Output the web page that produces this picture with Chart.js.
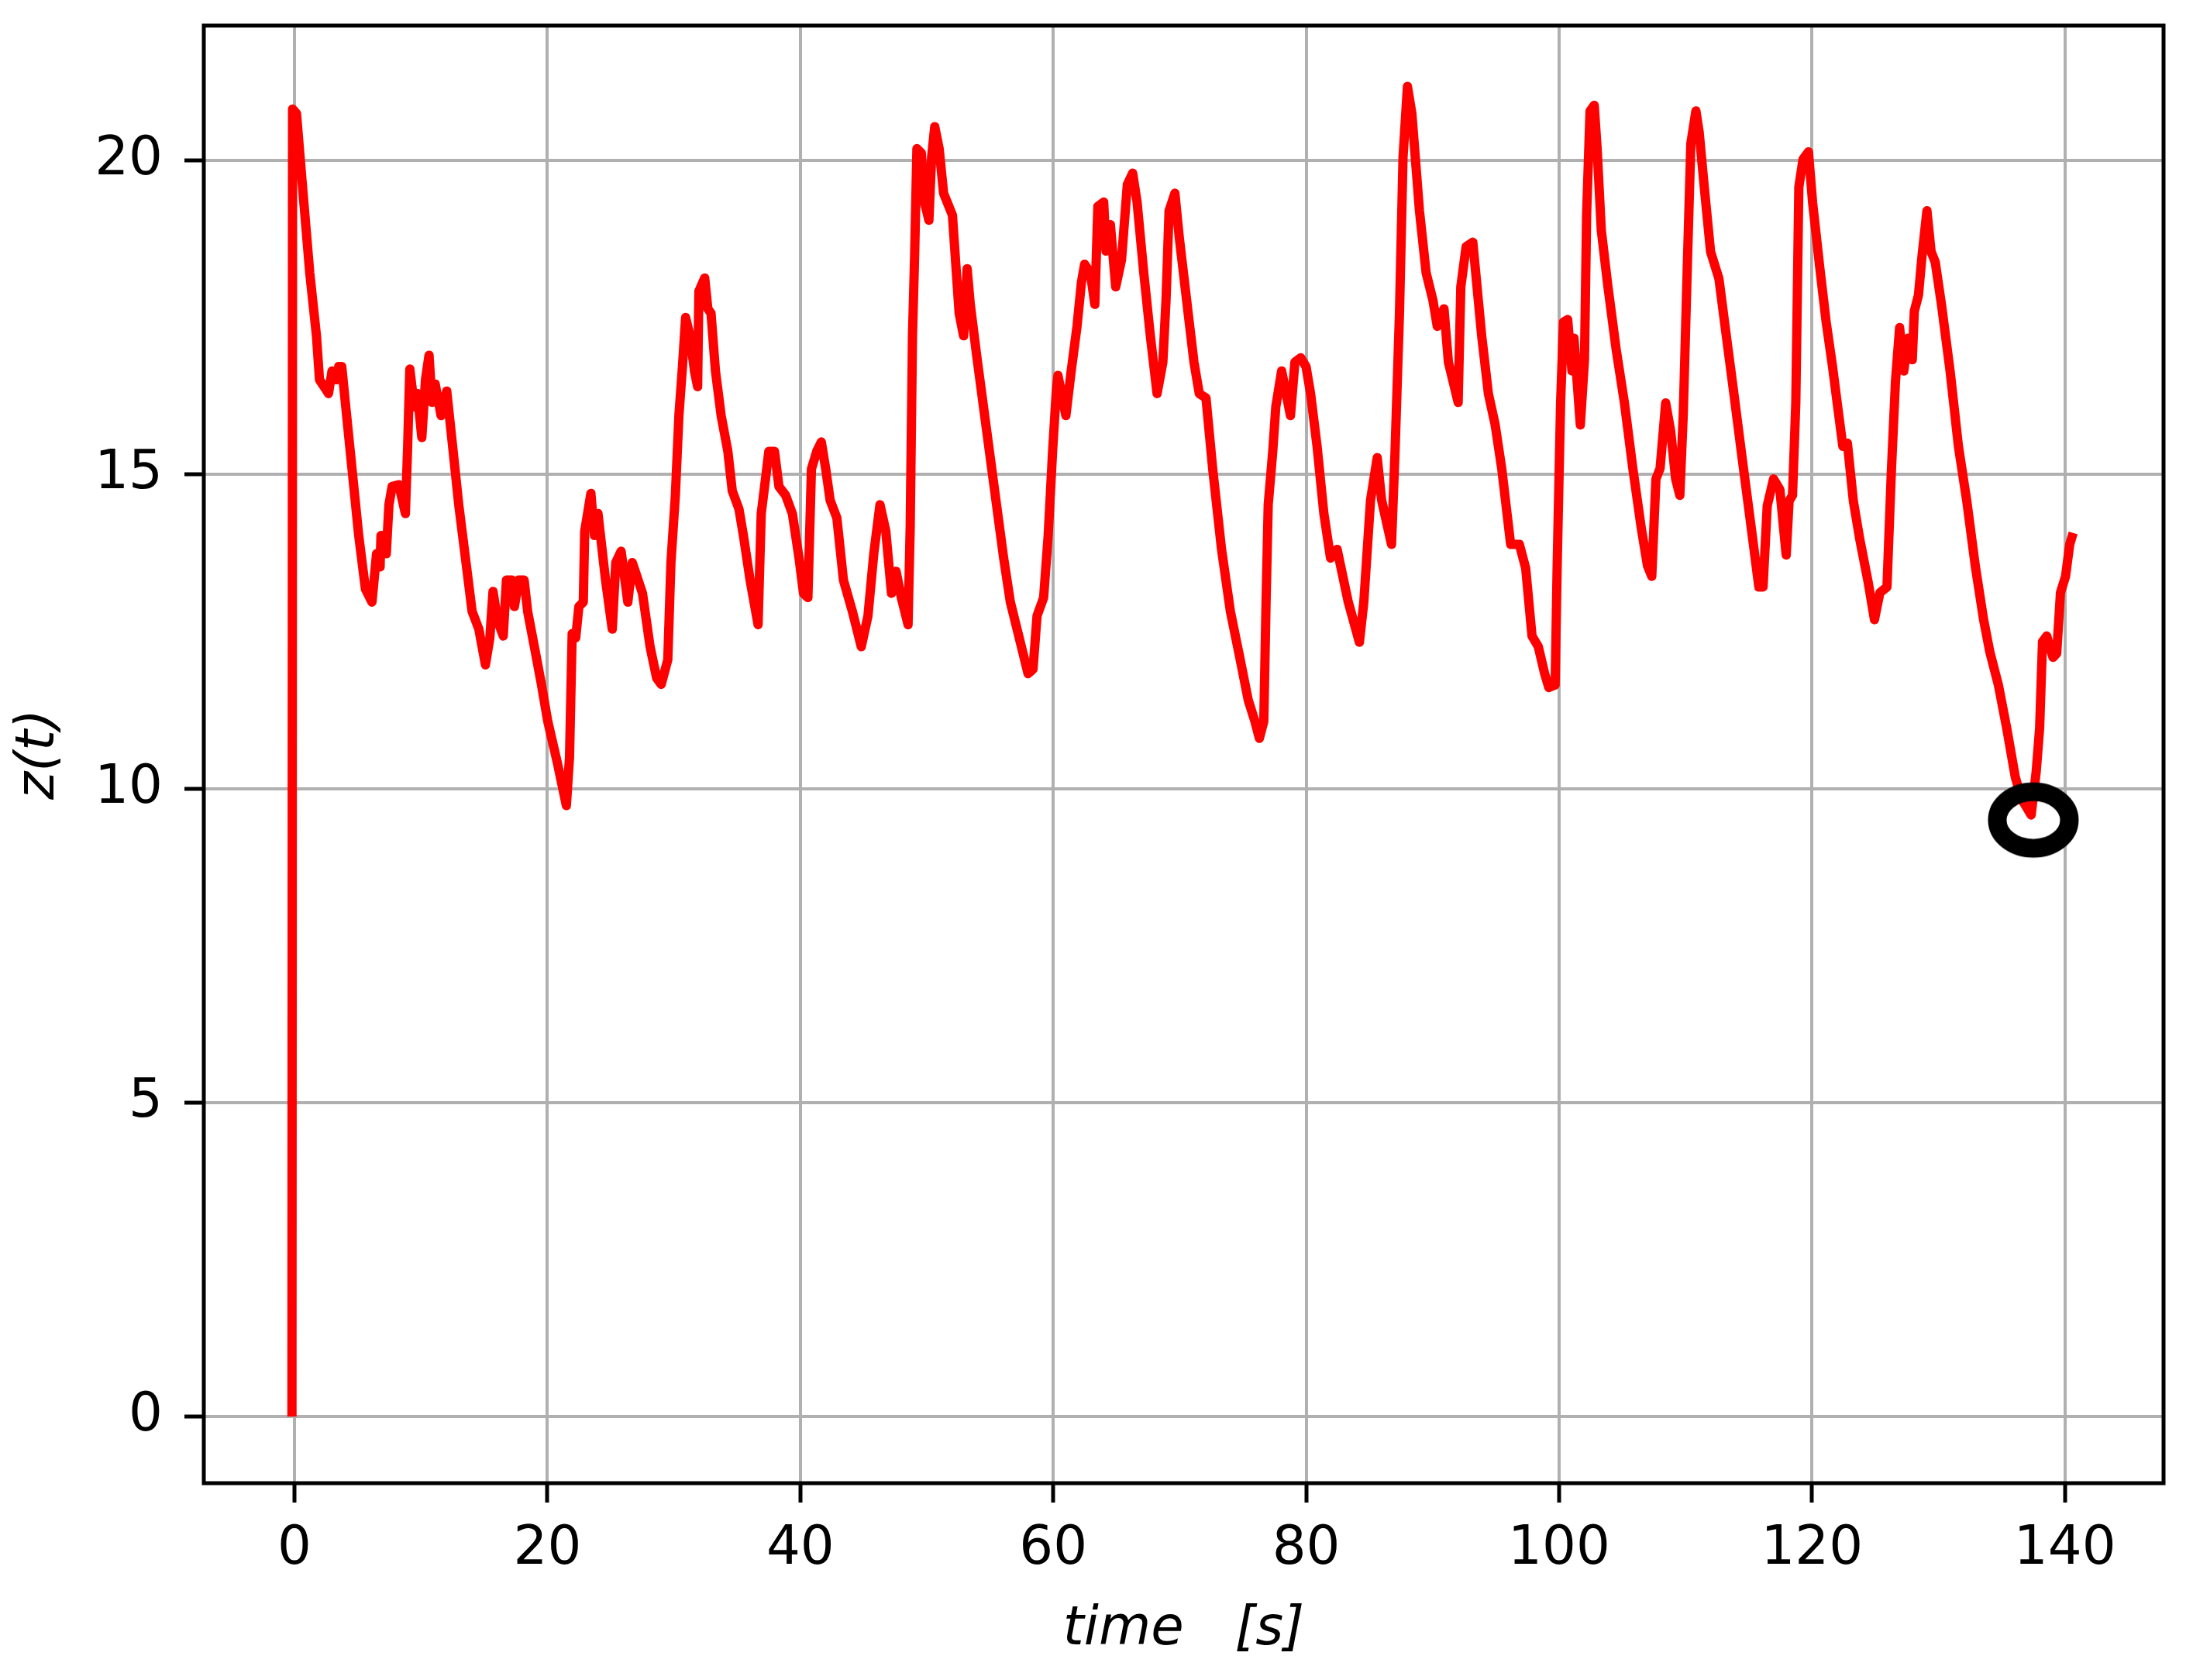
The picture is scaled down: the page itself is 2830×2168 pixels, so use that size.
<!DOCTYPE html>
<html>
<head>
<meta charset="utf-8">
<script src="https://cdn.jsdelivr.net/npm/chart.js@4.4.0/dist/chart.umd.min.js"></script>
<style>
html, body { margin: 0; padding: 0; background: #ffffff; }
canvas { display: block; }
</style>
</head>
<body>
<canvas id="c" width="2830" height="2168" style="width:2830px;height:2168px"></canvas>
<script>
// ---- tick labels ----
const xTicks = [0, 20, 40, 60, 80, 100, 120, 140];
const yTicks = [0, 5, 10, 15, 20];
const xRange = [-7.17, 147.8];
const yRange = [-1.06, 22.15];

// ---- series: time [s] and z(t) ----
const timeA = [-0.2, -0.15, 0.16, 0.68, 1.21, 1.74, 1.98, 2.44, 2.69, 2.97, 3.32, 3.50, 3.74, 4.02, 4.55, 5.08, 5.61, 6.13, 6.49, 6.77, 6.84, 7.26, 7.47, 7.72, 8.25, 8.77, 8.95, 9.12, 9.48, 9.72, 10.07, 10.36, 10.64, 10.88, 11.13, 11.59, 12.04, 12.47, 12.99, 13.52, 14.05, 14.58, 15.10, 15.45, 15.70, 16.05, 16.51, 16.76, 17.21, 17.39, 17.74, 18.16, 18.44, 18.97, 19.50, 20.03];
const zA = [0, 20.82, 20.75, 19.48, 18.21, 17.21, 16.51, 16.37, 16.29, 16.65, 16.51, 16.72, 16.72, 16.15, 15.09, 14.03, 13.18, 12.97, 13.74, 13.53, 14.03, 13.74, 14.52, 14.81, 14.84, 14.38, 15.44, 16.68, 16.08, 16.29, 15.59, 16.51, 16.90, 16.15, 16.44, 15.94, 16.33, 15.52, 14.52, 13.67, 12.82, 12.54, 11.97, 12.40, 13.14, 12.68, 12.43, 13.32, 13.32, 12.90, 13.32, 13.32, 12.82, 12.26, 11.69, 11.07];

const timeB = [20.8, 21.5, 21.75, 21.96, 22.24, 22.49, 22.84, 22.95, 23.44, 23.72, 24.0, 24.6, 25.13, 25.41, 25.83, 26.36, 26.71, 27.06, 27.52, 28.12, 28.64, 29.0, 29.52, 29.77, 30.12, 30.40, 30.68, 30.93, 31.28, 31.63, 31.88, 31.98, 32.44, 32.69, 32.94, 33.29, 33.74, 34.27, 34.62, 35.15, 35.5, 36.03, 36.66, 36.91, 37.26, 37.51, 37.96, 38.31, 38.84, 39.37, 39.90, 40.25, 40.60, 40.88, 41.30, 41.66, 42.01, 42.36, 42.89, 43.41, 44.12, 44.82, 45.35, 45.81, 46.30, 46.76, 47.21, 47.57, 47.99];
const zB = [10.4, 9.73, 10.5, 12.47, 12.40, 12.90, 12.97, 14.10, 14.70, 14.03, 14.38, 13.32, 12.54, 13.60, 13.78, 12.97, 13.60, 13.39, 13.11, 12.26, 11.76, 11.66, 12.05, 13.60, 14.67, 15.94, 16.72, 17.50, 17.21, 16.65, 16.40, 17.92, 18.13, 17.64, 17.57, 16.65, 15.94, 15.37, 14.74, 14.45, 14.03, 13.32, 12.61, 14.38, 14.95, 15.37, 15.37, 14.81, 14.67, 14.38, 13.67, 13.11, 13.04, 15.09, 15.37, 15.52, 15.09, 14.59, 14.31, 13.32, 12.82, 12.26, 12.75, 13.74, 14.52, 14.10, 13.11, 13.46, 13.04];

const timeC = [48.52, 48.69, 48.87, 49.04, 49.22, 49.57, 49.82, 50.17, 50.38, 50.63, 50.98, 51.33, 52.03, 52.56, 52.91, 53.19, 53.44, 53.97, 54.67, 55.37, 56.08, 56.61, 57.31, 58.01, 58.4, 58.72, 59.24, 59.6, 59.95, 60.23, 60.37, 61.0, 61.42, 61.88, 62.23, 62.48, 62.94, 63.29, 63.53, 63.99, 64.17, 64.52, 64.94, 65.40, 65.86, 66.28, 66.63, 67.16, 67.68, 68.21, 68.67, 68.92, 69.16, 69.62, 69.97, 70.67, 71.13, 71.55, 72.08, 72.61, 73.31, 74.01, 74.72, 75.42, 75.95, 76.3, 76.65, 76.83, 77.0, 77.36, 77.6, 78.06, 78.76, 79.11, 79.57, 79.99, 80.35, 80.87, 81.40, 81.93, 82.45, 83.33, 84.21, 84.56, 85.09, 85.62, 85.97, 86.75, 87.03, 87.38, 87.66, 88.01, 88.36, 88.96, 89.49, 90.02, 90.37, 90.90, 91.25, 92.02, 92.23, 92.65, 93.18, 93.88, 94.41, 94.94, 95.47, 96.17, 96.86, 97.36, 97.86, 98.36, 98.86, 99.19, 99.69];
const zC = [12.61, 14.17, 17.21, 18.49, 20.19, 20.12, 19.34, 19.05, 20.05, 20.54, 20.19, 19.48, 19.13, 17.57, 17.21, 18.28, 17.71, 16.86, 15.80, 14.74, 13.67, 12.97, 12.40, 11.83, 11.9, 12.75, 13.04, 14.03, 15.37, 16.29, 16.58, 15.94, 16.65, 17.36, 18.06, 18.35, 18.21, 17.71, 19.27, 19.34, 18.56, 18.98, 17.99, 18.42, 19.62, 19.80, 19.34, 18.21, 17.21, 16.29, 16.79, 17.78, 19.20, 19.48, 18.77, 17.57, 16.79, 16.29, 16.22, 15.09, 13.81, 12.82, 12.12, 11.41, 11.07, 10.8, 11.07, 12.97, 14.52, 15.37, 16.08, 16.65, 15.94, 16.79, 16.86, 16.72, 16.29, 15.44, 14.38, 13.67, 13.81, 12.97, 12.33, 12.97, 14.59, 15.27, 14.59, 13.89, 15.37, 17.57, 20.05, 21.18, 20.75, 19.20, 18.21, 17.78, 17.36, 17.64, 16.79, 16.15, 17.99, 18.63, 18.70, 17.21, 16.29, 15.80, 15.09, 13.89, 13.89, 13.51, 12.43, 12.26, 11.83, 11.61, 11.65];

const timeD = [99.85, 100.12, 100.35, 100.68, 101.02, 101.18, 101.68, 102.01, 102.18, 102.45, 102.78, 103.01, 103.34, 103.84, 104.51, 105.17, 105.83, 106.50, 106.99, 107.33, 107.66, 107.99, 108.43, 108.82, 109.22, 109.55, 109.82, 110.15, 110.42, 110.82, 111.08, 111.48, 111.98, 112.64, 113.14, 113.81, 114.47, 115.14, 115.80, 116.13, 116.46, 116.96, 117.46, 117.96, 118.19, 118.46, 118.72, 118.96, 119.29, 119.72, 120.05, 120.62, 121.12, 121.61, 122.11, 122.44, 122.8, 123.27, 123.77, 124.44, 124.94, 125.37, 125.93, 126.27, 126.60, 126.93, 127.26, 127.59, 127.93, 128.09, 128.42, 128.69, 129.09, 129.42, 129.75, 130.25, 130.92, 131.58, 132.24, 132.91, 133.57, 134.07, 134.74, 135.40, 136.07, 136.56, 137.33, 137.73, 138.0, 138.23, 138.56, 139.06, 139.35, 139.65, 140.05, 140.38, 140.65];
const zD = [13.55, 16.14, 17.43, 17.47, 16.65, 17.17, 15.79, 16.83, 19.15, 20.79, 20.88, 20.19, 18.89, 18.03, 17.00, 16.14, 15.10, 14.15, 13.55, 13.38, 14.93, 15.10, 16.14, 15.70, 14.93, 14.67, 15.96, 18.38, 20.27, 20.79, 20.45, 19.58, 18.55, 18.12, 17.34, 16.31, 15.27, 14.24, 13.21, 13.21, 14.50, 14.93, 14.76, 13.72, 14.58, 14.67, 16.14, 19.58, 20.02, 20.14, 19.33, 18.29, 17.43, 16.74, 15.96, 15.45, 15.5, 14.58, 13.98, 13.29, 12.69, 13.12, 13.21, 15.02, 16.48, 17.34, 16.65, 17.17, 16.83, 17.60, 17.86, 18.46, 19.20, 18.55, 18.38, 17.69, 16.65, 15.45, 14.58, 13.55, 12.69, 12.17, 11.65, 10.96, 10.19, 9.84, 9.58, 10.27, 10.96, 12.34, 12.43, 12.09, 12.15, 13.12, 13.38, 13.89, 14.07];

// highlighted minimum (black ring)
const markTime = [137.5];
const markZ = [9.5];

const times = [].concat(timeA, timeB, timeC, timeD);
const zValues = [].concat(zA, zB, zC, zD);
const seriesData = times.map((t, i) => ({ x: t, y: zValues[i] }));
const markData = markTime.map((t, i) => ({ x: t, y: markZ[i] }));

// ring marker style (ellipse outline)
const ring = document.createElement('canvas');
ring.width = 122; ring.height = 100;
(function () {
  const g = ring.getContext('2d');
  g.strokeStyle = '#000000';
  g.lineWidth = 24;
  g.beginPath();
  g.ellipse(61, 50, 46.5, 36.5, 0, 0, Math.PI * 2);
  g.stroke();
})();

const framePlugin = {
  id: 'frame',
  afterDraw(chart) {
    const { ctx, chartArea: a } = chart;
    ctx.save();
    ctx.strokeStyle = '#000000';
    ctx.lineWidth = 5;
    ctx.strokeRect(a.left, a.top, a.right - a.left, a.bottom - a.top);
    ctx.restore();
  }
};
const bgPlugin = {
  id: 'bg',
  beforeDraw(chart) {
    const ctx = chart.ctx;
    ctx.save();
    ctx.fillStyle = '#ffffff';
    ctx.fillRect(0, 0, chart.width, chart.height);
    ctx.restore();
  }
};

const FONT = "'DejaVu Sans', 'Liberation Sans', sans-serif";
function noPad(s) { s.paddingTop = 0; s.paddingBottom = 0; s.paddingLeft = 0; s.paddingRight = 0; }

new Chart(document.getElementById('c'), {
  type: 'line',
  data: {
    datasets: [
      {
        label: 'minimum',
        data: markData,
        showLine: false,
        pointStyle: ring,
        pointRadius: 50,
        pointHoverRadius: 50
      },
      {
        label: 'z(t)',
        data: seriesData,
        borderColor: '#ff0000',
        backgroundColor: '#ff0000',
        borderWidth: 12,
        borderJoinStyle: 'round',
        borderCapStyle: 'butt',
        pointRadius: 0,
        tension: 0,
        fill: false
      }
    ]
  },
  options: {
    responsive: false,
    animation: false,
    devicePixelRatio: 1,
    layout: { autoPadding: false, padding: { left: 0, top: 33, right: 38, bottom: 0 } },
    plugins: { legend: { display: false }, tooltip: { enabled: false } },
    events: [],
    scales: {
      x: {
        type: 'linear',
        min: xRange[0],
        max: xRange[1],
        afterBuildTicks: (s) => { s.ticks = xTicks.map(v => ({ value: v })); },
        afterFit: (s) => { s.height = 254; noPad(s); },
        ticks: {
          font: { family: FONT, size: 69 },
          color: '#000000',
          padding: 20,
          maxRotation: 0,
          autoSkip: false
        },
        grid: {
          color: '#b0b0b0',
          lineWidth: 4,
          tickColor: '#000000',
          tickWidth: 5,
          tickLength: 25,
          drawTicks: true
        },
        border: { display: false },
        title: {
          display: true,
          text: 'time   [s]',
          color: '#000000',
          font: { family: FONT, size: 69, style: 'italic' },
          padding: { top: 0, bottom: 23 }
        }
      },
      y: {
        type: 'linear',
        min: yRange[0],
        max: yRange[1],
        afterBuildTicks: (s) => { s.ticks = yTicks.map(v => ({ value: v })); },
        afterFit: (s) => { s.width = 263; noPad(s); },
        ticks: {
          font: { family: FONT, size: 69 },
          color: '#000000',
          padding: 28,
          autoSkip: false
        },
        grid: {
          color: '#b0b0b0',
          lineWidth: 4,
          tickColor: '#000000',
          tickWidth: 5,
          tickLength: 25,
          drawTicks: true
        },
        border: { display: false },
        title: {
          display: true,
          text: 'z(t)',
          color: '#000000',
          font: { family: FONT, size: 69, style: 'italic' },
          padding: { top: 10, bottom: 0 }
        }
      }
    }
  },
  plugins: [bgPlugin, framePlugin]
});
</script>
</body>
</html>
